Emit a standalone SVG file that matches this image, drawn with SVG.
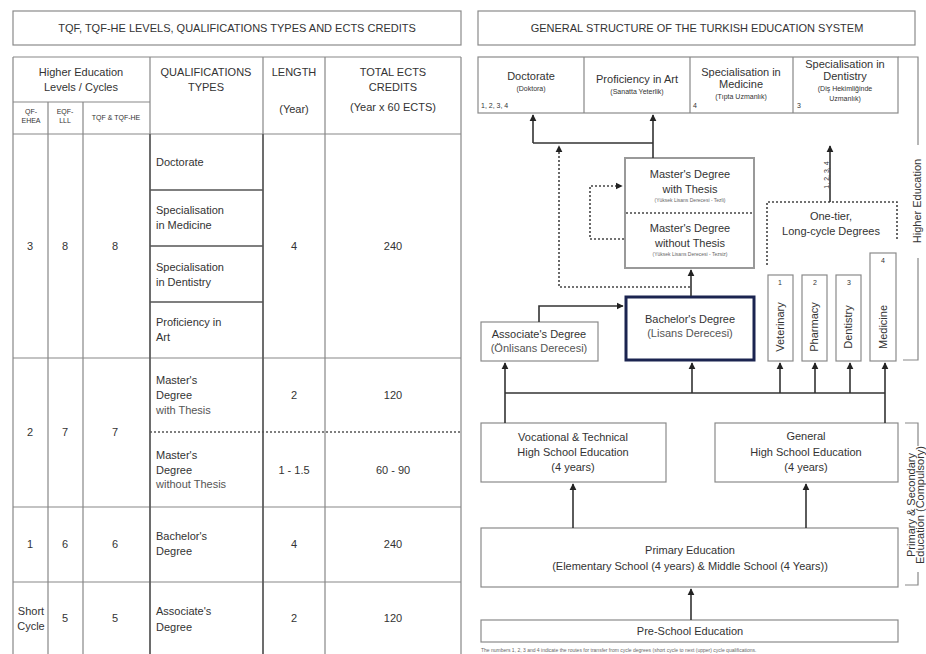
<svg xmlns="http://www.w3.org/2000/svg" width="926" height="654" viewBox="0 0 926 654">
<defs>
<marker id="ah" viewBox="0 0 10 10" refX="9" refY="5" markerWidth="7" markerHeight="8" orient="auto" markerUnits="userSpaceOnUse">
<path d="M0,0 L10,5 L0,10 z" fill="#222"/>
</marker>
<style>
text{font-family:"Liberation Sans",Arial,sans-serif;fill:#333;}
.t{font-size:11px;}
.c{text-anchor:middle;}
.s{font-size:7px;}
.xs{font-size:5px;fill:#666;}
.lt{fill:#555;}
.box{fill:#fff;stroke:#8a8a8a;stroke-width:1.2;}
.grid{stroke:#888;stroke-width:1.2;fill:none;}
.dk{stroke:#555;stroke-width:1.5;fill:none;}
.con{stroke:#333;stroke-width:1.6;fill:none;}
.dot{stroke:#444;stroke-width:1.6;fill:none;stroke-dasharray:2 2;}
.arr{marker-end:url(#ah);}
</style>
</defs>
<rect width="926" height="654" fill="#fff"/>

<!-- LEFT PANEL -->
<g id="left-title">
<rect class="box" x="13" y="11" width="448" height="34"/>
<text class="t c" x="237" y="32">TQF, TQF-HE LEVELS, QUALIFICATIONS TYPES AND ECTS CREDITS</text>
</g>
<g id="left-table">
<path class="grid" d="M13,57 H461 M13,57 V654 M48,102 V654 M83,102 V654 M150,57 V654 M263,57 V654 M325,57 V654 M461,57 V654 M13,102 H150 M13,134 H461 M13,358 H461 M13,507 H461 M13,582 H461"/>
<path class="dk" d="M150,134 V654 M263,134 V654 M150,190 H263 M150,246 H263 M150,302 H263"/>
<path d="M150,432 H461" stroke="#555" stroke-width="1.5" stroke-dasharray="2 2" fill="none"/>
<text class="t c" x="81" y="76">Higher Education</text>
<text class="t c" x="81" y="91">Levels / Cycles</text>
<text class="t c" x="206" y="76">QUALIFICATIONS</text>
<text class="t c" x="206" y="91">TYPES</text>
<text class="t c" x="294" y="76">LENGTH</text>
<text class="t c" x="294" y="113">(Year)</text>
<text class="t c" x="393" y="76">TOTAL ECTS</text>
<text class="t c" x="393" y="91">CREDITS</text>
<text class="t c" x="393" y="111">(Year x 60 ECTS)</text>
<text class="s c" x="31" y="114">QF-</text>
<text class="s c" x="31" y="123">EHEA</text>
<text class="s c" x="65" y="114">EQF-</text>
<text class="s c" x="65" y="123">LLL</text>
<text class="s c" x="116" y="120">TQF &amp; TQF-HE</text>

<text class="t c" x="30" y="250">3</text>
<text class="t c" x="65" y="250">8</text>
<text class="t c" x="115" y="250">8</text>
<text class="t c" x="294" y="250">4</text>
<text class="t c" x="393" y="250">240</text>
<text class="t" x="156" y="166">Doctorate</text>
<text class="t" x="156" y="214">Specialisation</text>
<text class="t" x="156" y="229">in Medicine</text>
<text class="t" x="156" y="271">Specialisation</text>
<text class="t" x="156" y="286">in Dentistry</text>
<text class="t" x="156" y="326">Proficiency in</text>
<text class="t" x="156" y="341">Art</text>

<text class="t c" x="30" y="436">2</text>
<text class="t c" x="65" y="436">7</text>
<text class="t c" x="115" y="436">7</text>
<text class="t" x="156" y="384">Master's</text>
<text class="t" x="156" y="399">Degree</text>
<text class="t lt" x="156" y="414">with Thesis</text>
<text class="t c" x="294" y="399">2</text>
<text class="t c" x="393" y="399">120</text>
<text class="t" x="156" y="459">Master's</text>
<text class="t" x="156" y="474">Degree</text>
<text class="t lt" x="156" y="488">without Thesis</text>
<text class="t c" x="294" y="474">1 - 1.5</text>
<text class="t c" x="393" y="474">60 - 90</text>

<text class="t c" x="30" y="548">1</text>
<text class="t c" x="65" y="548">6</text>
<text class="t c" x="115" y="548">6</text>
<text class="t" x="156" y="540">Bachelor's</text>
<text class="t" x="156" y="555">Degree</text>
<text class="t c" x="294" y="548">4</text>
<text class="t c" x="393" y="548">240</text>

<text class="t c" x="31" y="615">Short</text>
<text class="t c" x="31" y="630">Cycle</text>
<text class="t c" x="65" y="622">5</text>
<text class="t c" x="115" y="622">5</text>
<text class="t" x="156" y="615">Associate's</text>
<text class="t" x="156" y="631">Degree</text>
<text class="t c" x="294" y="622">2</text>
<text class="t c" x="393" y="622">120</text>
</g>

<!-- RIGHT PANEL -->
<g id="right-title">
<rect class="box" x="478" y="11" width="437" height="34"/>
<text class="t c" x="697" y="32">GENERAL STRUCTURE OF THE TURKISH EDUCATION SYSTEM</text>
</g>

<g id="top-row">
<rect class="box" x="478" y="57" width="420" height="56"/>
<path class="grid" d="M584,57 V113 M690,57 V113 M793,57 V113"/>
</g>
<g id="doctorate">
<text class="t c" x="531" y="80" font-size="10">Doctorate</text>
<text class="s c" x="531" y="91" font-size="8">(Doktora)</text>
<text class="s" x="481" y="108">1, 2, 3, 4</text>
</g>
<g id="proficiency">
<text class="t c" x="637" y="83" font-size="10">Proficiency in Art</text>
<text class="s c" x="637" y="94" font-size="8">(Sanatta Yeterlik)</text>
</g>
<g id="spec-medicine">
<text class="t c" x="741" y="76" font-size="10">Specialisation in</text>
<text class="t c" x="741" y="88" font-size="10">Medicine</text>
<text class="s c" x="741" y="99" font-size="8">(Tıpta Uzmanlık)</text>
<text class="s" x="693" y="108">4</text>
</g>
<g id="spec-dentistry">
<text class="t c" x="845" y="68" font-size="10">Specialisation in</text>
<text class="t c" x="845" y="80" font-size="10">Dentistry</text>
<text class="s c" x="845" y="91" font-size="8">(Diş Hekimliğinde</text>
<text class="s c" x="845" y="101" font-size="8">Uzmanlık)</text>
<text class="s" x="797" y="108">3</text>
</g>

<g id="bracket-higher">
<path class="grid" d="M898,57 H918 V145 M918,258 V360 H903"/>
<text class="t c" font-size="10" transform="translate(921,201) rotate(-90)">Higher Education</text>
</g>
<g id="bracket-primary">
<path class="grid" d="M905,423 H918 V446 M918,572 V585 H905"/>
<text class="t c" font-size="9.5" transform="translate(915,505) rotate(-90)">Primary &amp; Secondary</text>
<text class="t c" font-size="9" transform="translate(924,505) rotate(-90)">Education (Compulsory)</text>
</g>

<g id="masters">
<rect x="625" y="158" width="129" height="110" fill="#fff" stroke="#999" stroke-width="2"/>
<path d="M626,213 H753" stroke="#444" stroke-width="1.5" stroke-dasharray="2 2" fill="none"/>
<text class="t c" x="690" y="178">Master's Degree</text>
<text class="t c" x="690" y="193">with Thesis</text>
<text class="xs c" x="690" y="202">(Yüksek Lisans Derecesi - Tezli)</text>
<text class="t c" x="690" y="232">Master's Degree</text>
<text class="t c" x="690" y="247">without Thesis</text>
<text class="xs c" x="690" y="256">(Yüksek Lisans Derecesi - Tezsiz)</text>
</g>

<g id="one-tier">
<path class="dot" stroke="#777" d="M767,265 V202 H897 V240"/>
<text class="t c" x="831" y="220">One-tier,</text>
<text class="t c" x="831" y="235">Long-cycle Degrees</text>
</g>

<g id="veterinary">
<rect class="box" x="768" y="275" width="25" height="86"/>
<text class="s c" x="780" y="285">1</text>
<text class="t c" font-size="10" transform="translate(784,327) rotate(-90)">Veterinary</text>
</g>
<g id="pharmacy">
<rect class="box" x="802" y="275" width="25" height="86"/>
<text class="s c" x="815" y="285">2</text>
<text class="t c" font-size="10" transform="translate(818,327) rotate(-90)">Pharmacy</text>
</g>
<g id="dentistry">
<rect class="box" x="836" y="275" width="25" height="86"/>
<text class="s c" x="849" y="285">3</text>
<text class="t c" font-size="10" transform="translate(852,327) rotate(-90)">Dentistry</text>
</g>
<g id="medicine">
<rect class="box" x="870" y="253" width="26" height="108"/>
<text class="s c" x="883" y="263">4</text>
<text class="t c" font-size="10" transform="translate(887,327) rotate(-90)">Medicine</text>
</g>

<g id="associate">
<rect class="box" x="481" y="322" width="117" height="39"/>
<text class="t c" x="539" y="338">Associate's Degree</text>
<text class="t c lt" x="539" y="352" font-size="9.5">(Önlisans Derecesi)</text>
</g>
<g id="bachelor">
<rect x="626" y="297" width="128" height="63" fill="#fff" stroke="#1b2450" stroke-width="3"/>
<text class="t c" x="690" y="323">Bachelor's Degree</text>
<text class="t c lt" x="690" y="337" font-size="9.5">(Lisans Derecesi)</text>
</g>

<g id="vocational">
<rect class="box" x="481" y="423" width="185" height="59"/>
<text class="t c" x="573" y="441">Vocational &amp; Technical</text>
<text class="t c" x="573" y="456">High School Education</text>
<text class="t c" x="573" y="471">(4 years)</text>
</g>
<g id="general">
<rect class="box" x="715" y="423" width="183" height="59"/>
<text class="t c" x="806" y="440">General</text>
<text class="t c" x="806" y="456">High School Education</text>
<text class="t c" x="806" y="471">(4 years)</text>
</g>
<g id="primary">
<rect class="box" x="481" y="528" width="417" height="59"/>
<text class="t c" x="690" y="554">Primary Education</text>
<text class="t c" x="690" y="570">(Elementary School (4 years) &amp; Middle School (4 Years))</text>
</g>
<g id="preschool">
<rect class="box" x="481" y="620" width="417" height="22"/>
<text class="t c" x="690" y="635">Pre-School Education</text>
</g>
<g id="footnote">
<text class="xs" x="481" y="652">The numbers 1, 2, 3 and 4 indicate the routes for transfer from cycle degrees (short cycle to next (upper) cycle qualifications.</text>
</g>

<g id="connectors">
<path class="con arr" d="M533,143 V115"/>
<path class="con" d="M533,143 H653"/>
<path class="con arr" d="M653,158 V115"/>
<path class="dot arr" d="M690,287 H559 V146"/>
<path class="dot arr" d="M624,239 H590 V186 H622"/>
<path class="con arr" d="M691,296 V270"/>
<path class="con arr" d="M539,322 V306 H623"/>
<path class="con arr" d="M830,202 V146"/>
<text class="s c" transform="translate(829,175) rotate(-90)">1, 2, 3, 4</text>
<path class="con" d="M505,393 H885"/>
<path class="con arr" d="M505,423 V363"/>
<path class="con arr" d="M885,423 V363"/>
<path class="con arr" d="M692,393 V363"/>
<path class="con arr" d="M780,393 V363"/>
<path class="con arr" d="M815,393 V363"/>
<path class="con arr" d="M850,393 V363"/>
<path class="con arr" d="M573,528 V484"/>
<path class="con arr" d="M806,528 V484"/>
<path class="con arr" d="M691,620 V589"/>
</g>
</svg>
